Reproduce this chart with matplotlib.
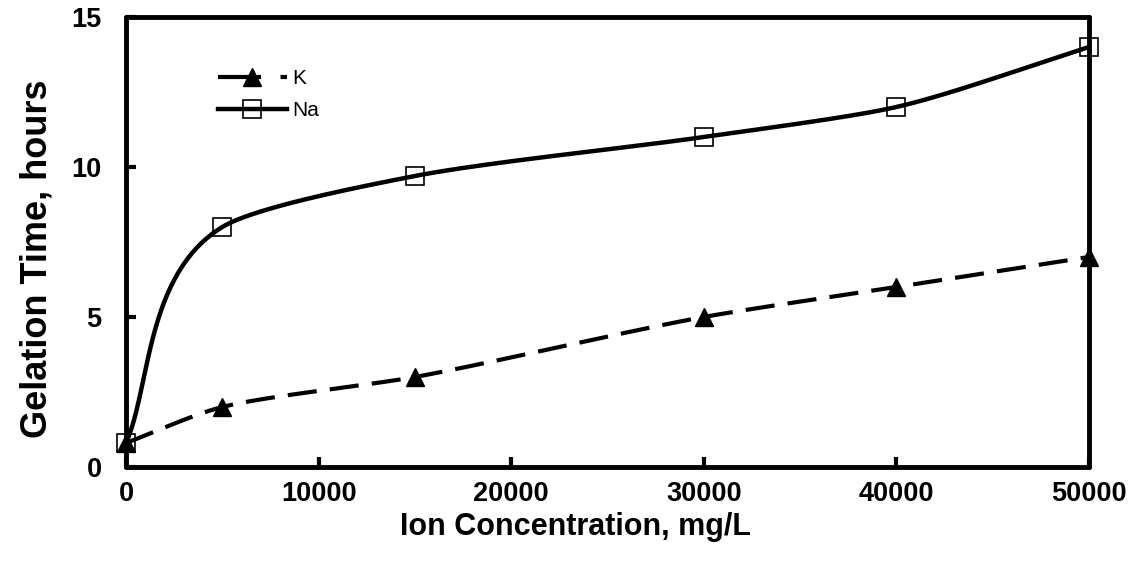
import numpy as np
import matplotlib
matplotlib.use("Agg")
import matplotlib.pyplot as plt
from matplotlib.lines import Line2D

plt.rcParams['font.family'] = ['Liberation Sans', 'DejaVu Sans']
plt.rcParams['lines.scale_dashes'] = False

# Ion concentration (mg/L) and gelation time (hours)
concentration = [0, 5000, 15000, 30000, 40000, 50000]
k_time = [0.8, 2, 3, 5, 6, 7]
na_time = [0.8, 8, 9.7, 11, 12, 14]

x_ticks = [0, 10000, 20000, 30000, 40000, 50000]
y_ticks = [0, 5, 10, 15]


def _unit(v):
    n = np.hypot(v[0], v[1])
    return v / n if n > 0 else v


def smooth(ax, xs, ys, squeeze=0.4, frac=0.256, n=80):
    """Bezier smoothing computed in display space (x squeezed), G1-continuous."""
    pix = ax.transData.transform(np.column_stack([xs, ys]).astype(float))
    q = pix.copy()
    q[:, 0] *= squeeze
    m = len(q)
    tang = []
    for i in range(m):
        if i == 0:
            u = _unit(q[1] - q[0])
        elif i == m - 1:
            u = _unit(q[-1] - q[-2])
        else:
            u = _unit(_unit(q[i] - q[i - 1]) + _unit(q[i + 1] - q[i]))
        tang.append(u)
    t = np.linspace(0, 1, n)[:, None]
    out = []
    for i in range(m - 1):
        p1, p2 = q[i], q[i + 1]
        d = np.hypot(*(p2 - p1))
        c1 = p1 + tang[i] * frac * d
        c2 = p2 - tang[i + 1] * frac * d
        seg = ((1 - t) ** 3) * p1 + 3 * ((1 - t) ** 2) * t * c1 \
            + 3 * (1 - t) * t ** 2 * c2 + t ** 3 * p2
        out.append(seg if i == 0 else seg[1:])
    s = np.vstack(out)
    s[:, 0] /= squeeze
    data = ax.transData.inverted().transform(s)
    return data[:, 0], data[:, 1]


fig = plt.figure(figsize=(11.43, 5.69), dpi=100)
ax = fig.add_axes([126 / 1143, 1 - 467 / 569, 963 / 1143, 450 / 569])
ax.set_xlim(0, 50000)
ax.set_ylim(0, 15)

kx, ky = smooth(ax, concentration, k_time)
nx, ny = smooth(ax, concentration, na_time)

ax.plot(kx, ky, color='black', lw=3.0, dashes=(21, 9.5), solid_capstyle='butt',
        dash_capstyle='butt', zorder=3)
ax.plot(nx, ny, color='black', lw=3.2, zorder=3)
ax.plot(concentration, k_time, ls='none', marker='^', ms=13, color='black',
        zorder=4, clip_on=False)
ax.plot(concentration, na_time, ls='none', marker='s', ms=13.5,
        markerfacecolor='none', markeredgecolor='black', markeredgewidth=1.2,
        zorder=5, clip_on=False)

ax.set_xticks(x_ticks)
ax.set_yticks(y_ticks)
ax.set_xticklabels([str(v) for v in x_ticks])
ax.set_yticklabels([str(v) for v in y_ticks])

for sp in ax.spines.values():
    sp.set_linewidth(3.5)
    sp.set_capstyle('round')
ax.tick_params(direction='in', length=7, width=3, labelsize=19.5)
ax.tick_params(axis='y', pad=17.5)
ax.tick_params(axis='x', pad=10)
for lbl in ax.get_xticklabels() + ax.get_yticklabels():
    lbl.set_fontweight('bold')

fig.text(576 / 1143, 1 - 527 / 569, 'Ion Concentration, mg/L', fontsize=22,
         fontweight='bold', ha='center', va='center')
fig.text(37 / 1143, 1 - 259 / 569, 'Gelation Time, hours', fontsize=26,
         fontweight='bold', ha='center', va='center', rotation=90)

k_handle = Line2D([], [], color='black', lw=3.0, dashes=(31, 14),
                  dash_capstyle='butt', marker='^', ms=13)
na_handle = Line2D([], [], color='black', lw=3.2, marker='s', ms=13.5,
                   markerfacecolor='none', markeredgecolor='black',
                   markeredgewidth=1.2)
ax.legend([k_handle, na_handle], ['K', 'Na'], loc='upper left',
          bbox_to_anchor=((218 - 126) / 963, (467 - 69) / 450),
          frameon=False, fontsize=15, handlelength=3.3, handletextpad=0.25,
          borderpad=0, borderaxespad=0, labelspacing=0.64, numpoints=1)

fig.savefig('out.png', dpi=100)
